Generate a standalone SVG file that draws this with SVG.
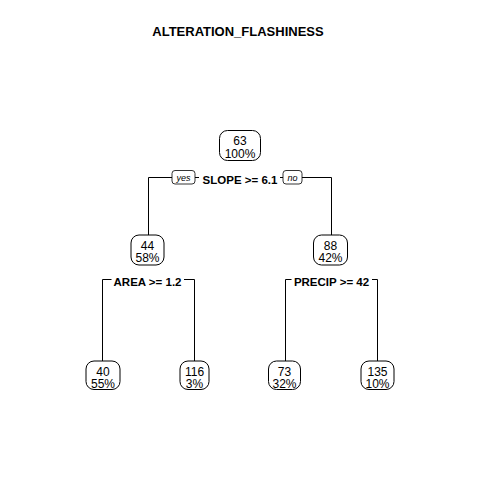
<svg xmlns="http://www.w3.org/2000/svg" width="480" height="480" viewBox="0 0 480 480">
<style>
.bg{fill:#fff}
.box{fill:#fff;stroke:#000;stroke-width:1}
.yn{fill:#fff;stroke:#000;stroke-width:0.8}
.t{font-family:"Liberation Sans",Arial,sans-serif;font-size:12px;fill:#000;text-anchor:middle}
.s{font-family:"Liberation Sans",Arial,sans-serif;font-size:11.5px;font-weight:bold;fill:#000;text-anchor:middle}
.y{font-family:"Liberation Sans",Arial,sans-serif;font-size:9px;font-style:italic;fill:#000;text-anchor:middle}
.title{font-family:"Liberation Sans",Arial,sans-serif;font-size:13px;font-weight:bold;fill:#000;text-anchor:middle}
.c{fill:none;stroke:#000;stroke-width:1}
</style>
<rect class="bg" x="0" y="0" width="480" height="480"/>
<text class="title" x="238" y="36">ALTERATION_FLASHINESS</text>
<g id="connectors">
<path class="c" d="M148.5,235 V177.5 H172 M195,177.5 H199 M280,177.5 H283 M302,177.5 H331.5 V235"/>
<path class="c" d="M102.5,361 V279.5 H111.5 M184,279.5 H194.5 V361"/>
<path class="c" d="M285.5,361 V279.5 H291.5 M372,279.5 H377.5 V361"/>
</g>
<g id="split-root">
<rect class="yn" x="172" y="170.5" width="23" height="13.5" rx="3"/>
<text class="y" x="183.5" y="181">yes</text>
<text class="s" x="240" y="183.5">SLOPE &gt;= 6.1</text>
<rect class="yn" x="283" y="170.5" width="19" height="13.5" rx="3"/>
<text class="y" x="292.5" y="181">no</text>
</g>
<g id="split-left"><text class="s" x="147.5" y="286">AREA &gt;= 1.2</text></g>
<g id="split-right"><text class="s" x="331.5" y="286">PRECIP &gt;= 42</text></g>
<g id="n1"><rect class="box" x="219.5" y="130.5" width="41" height="30" rx="8"/><text class="t" x="240" y="145">63</text><text class="t" x="240" y="157.5">100%</text></g>
<g id="n2"><rect class="box" x="131" y="235" width="33" height="30" rx="8"/><text class="t" x="147.5" y="249.5">44</text><text class="t" x="147.5" y="262">58%</text></g>
<g id="n3"><rect class="box" x="313.5" y="235" width="34" height="30" rx="8"/><text class="t" x="330.5" y="249.5">88</text><text class="t" x="330.5" y="262">42%</text></g>
<g id="n4"><rect class="box" x="86" y="361" width="34" height="28.5" rx="8"/><text class="t" x="103" y="375.5">40</text><text class="t" x="103" y="388">55%</text></g>
<g id="n5"><rect class="box" x="180" y="361" width="29" height="28.5" rx="8"/><text class="t" x="194.5" y="375.5">116</text><text class="t" x="194.5" y="388">3%</text></g>
<g id="n6"><rect class="box" x="268.5" y="361" width="32" height="28.5" rx="8"/><text class="t" x="284.5" y="375.5">73</text><text class="t" x="284.5" y="388">32%</text></g>
<g id="n7"><rect class="box" x="361" y="361" width="33" height="28.5" rx="8"/><text class="t" x="377.5" y="375.5">135</text><text class="t" x="377.5" y="388">10%</text></g>
</svg>
